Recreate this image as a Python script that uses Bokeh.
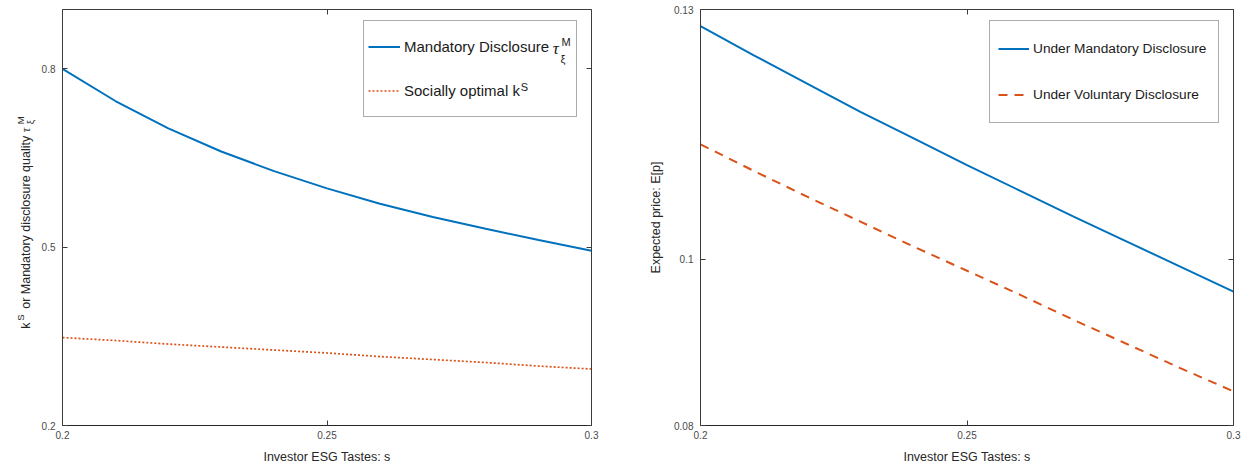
import math
from bokeh.plotting import figure
from bokeh.layouts import row
from bokeh.models import Range1d, LinearAxis, FixedTicker, Legend, LegendItem
from bokeh.core.properties import value
from bokeh.embed import file_html
from bokeh.resources import INLINE

# ---------------- data ----------------
s_vals = [0.20, 0.21, 0.22, 0.23, 0.24, 0.25, 0.26, 0.27, 0.28, 0.29, 0.30]
tau_mandatory = [0.800, 0.746, 0.700, 0.661, 0.628, 0.599, 0.573, 0.551, 0.531, 0.512, 0.494]
k_social = [0.348, 0.343, 0.337, 0.332, 0.327, 0.322, 0.316, 0.311, 0.306, 0.300, 0.295]
price_mandatory = [0.1280, 0.1245, 0.1211, 0.1177, 0.1145, 0.1113, 0.1082, 0.1051, 0.1021, 0.0991, 0.0961]
price_voluntary = [0.1138, 0.1106, 0.1075, 0.1045, 0.1015, 0.0986, 0.0957, 0.0927, 0.0898, 0.0869, 0.0841]

x_ticks = [0.2, 0.25, 0.3]
x_tick_labels = ["0.2", "0.25", "0.3"]
left_y_ticks = [0.2, 0.5, 0.8]
left_y_tick_labels = ["0.2", "0.5", "0.8"]
right_y_ticks = [0.08, 0.1, 0.13]
right_y_tick_labels = ["0.08", "0.1", "0.13"]

x_label = "Investor ESG Tastes: s"
right_y_label = "Expected price: E[p]"
left_legend = ["Mandatory Disclosure", "Socially optimal k"]
right_legend = ["Under Mandatory Disclosure", "Under Voluntary Disclosure"]

# ---------------- style / layout ----------------
FONT = "Liberation Sans"
BLUE = "#0072BD"
ORANGE = "#D95319"
AXIS_COL = "#3c3c3c"
TICK_TXT = "#4a4a4a"
LABEL_TXT = "#262626"
FIG_H = 466
B_TOP = 9
B_BOT = 40
FRAME_H = FIG_H - B_TOP - B_BOT
LBL_W = 38             # strip that holds the rotated left y label
P1_W, P1_BL, P1_BR = 620 - LBL_W, 22, 29
P1_FW = P1_W - P1_BL - P1_BR


def style_axis(ax, ticks, labels, show):
    ax.ticker = FixedTicker(ticks=ticks)
    ax.major_tick_in = 5
    ax.major_tick_out = 0
    ax.minor_tick_line_color = None
    ax.axis_line_color = AXIS_COL
    ax.axis_line_width = 1
    ax.major_tick_line_color = AXIS_COL
    if show:
        ax.major_label_overrides = {t: l for t, l in zip(ticks, labels)}
        ax.major_label_text_font = FONT
        ax.major_label_text_font_size = "10px"
        ax.major_label_text_color = TICK_TXT
    else:
        ax.major_label_overrides = {t: "" for t in ticks}
        ax.major_label_text_font_size = "0px"
        ax.major_label_standoff = 0


def make_fig(width, bl, br, yr, yticks, ylabels):
    p = figure(width=width, height=FIG_H, x_range=Range1d(0.2, 0.3), y_range=Range1d(*yr),
               output_backend="svg", toolbar_location=None,
               x_axis_location=None, y_axis_location=None,
               min_border_left=bl, min_border_right=br,
               min_border_top=B_TOP, min_border_bottom=B_BOT)
    p.grid.visible = False
    p.outline_line_color = None
    p.background_fill_color = "white"
    p.border_fill_color = "white"

    bottom = LinearAxis()
    style_axis(bottom, x_ticks, x_tick_labels, True)
    bottom.major_label_standoff = 5
    bottom.axis_label = x_label
    bottom.axis_label_text_font = FONT
    bottom.axis_label_text_font_size = "12.5px"
    bottom.axis_label_text_font_style = "normal"
    bottom.axis_label_text_color = LABEL_TXT
    bottom.axis_label_standoff = 8
    bottom.axis_line_color = "#262626"
    p.add_layout(bottom, "below")

    left = LinearAxis()
    style_axis(left, yticks, ylabels, True)
    left.major_label_standoff = 7
    p.add_layout(left, "left")

    top = LinearAxis()
    style_axis(top, x_ticks, x_tick_labels, False)
    p.add_layout(top, "above")

    right = LinearAxis()
    style_axis(right, yticks, ylabels, False)
    p.add_layout(right, "right")
    return p, left


def make_legend(items, x, top_gap, pad, item_h, spacing, glyph_w, label_w, font_size, n=2):
    height = 2 * pad + n * item_h + (n - 1) * spacing
    leg = Legend(items=items, location=(x, FRAME_H - top_gap - height),
                 padding=pad, spacing=spacing, margin=0,
                 glyph_width=glyph_w, glyph_height=item_h,
                 label_width=label_w, label_height=item_h, label_standoff=4,
                 border_line_color="#5a5a5a", border_line_width=1,
                 background_fill_alpha=0,
                 label_text_font=FONT, label_text_font_size=font_size,
                 label_text_color="#1a1a1a")
    return leg


def put_text(p, sx, sy, text, size, xr, yr, fw, fh, font=FONT, style="normal",
             angle=0.0, baseline="middle", color="#1a1a1a"):
    """Place a text at a screen offset (sx from frame left, sy from frame bottom)."""
    xd = xr[0] + sx / fw * (xr[1] - xr[0])
    yd = yr[0] + sy / fh * (yr[1] - yr[0])
    p.text(x=[xd], y=[yd], text=[text], text_font=value(font), text_font_size=value(size),
           text_font_style=style, text_color=color, text_align="left",
           text_baseline=baseline, angle=angle, level="overlay")


# ---------------- rotated y label strip (left of the left panel) ----------------
LX = (0, LBL_W)
LY = (0, FRAME_H)
lbl = figure(width=LBL_W, height=FIG_H, x_range=Range1d(*LX), y_range=Range1d(*LY),
             output_backend="svg", toolbar_location=None,
             x_axis_location=None, y_axis_location=None,
             min_border_left=0, min_border_right=0,
             min_border_top=B_TOP, min_border_bottom=B_BOT)
lbl.grid.visible = False
lbl.outline_line_color = None
MAIN_X, SUP_X, SUB_X = 25.5, 19.5, 30
up = math.pi / 2
rot = dict(angle=up, baseline="alphabetic", color=LABEL_TXT)
put_text(lbl, MAIN_X, 97, "k", "12.5px", LX, LY, LBL_W, FRAME_H, **rot)
put_text(lbl, SUP_X, 105, "S", "9.5px", LX, LY, LBL_W, FRAME_H, **rot)
put_text(lbl, MAIN_X, 117, "or Mandatory disclosure quality", "12.5px", LX, LY, LBL_W, FRAME_H, **rot)
put_text(lbl, MAIN_X, 294, "\u03c4", "12.5px", LX, LY, LBL_W, FRAME_H,
         font="Liberation Serif", style="italic", **rot)
put_text(lbl, SUP_X, 302, "M", "9.5px", LX, LY, LBL_W, FRAME_H, **rot)
put_text(lbl, SUB_X, 302, "\u03be", "9.5px", LX, LY, LBL_W, FRAME_H, **rot)

# ---------------- left panel ----------------
Y1 = (0.2, 0.9)
p1, p1_left = make_fig(P1_W, P1_BL, P1_BR, Y1, left_y_ticks, left_y_tick_labels)
r_tau = p1.line(s_vals, tau_mandatory, line_color=BLUE, line_width=2)
r_k = p1.line(s_vals, k_social, line_color=ORANGE, line_width=1.7, line_dash="2 2")

L1_X, L1_TOP, L1_PAD, L1_H, L1_SP = 301, 14, 4, 43, 1
leg1 = make_legend([LegendItem(label=left_legend[0], renderers=[r_tau]),
                    LegendItem(label=left_legend[1], renderers=[r_k])],
                   L1_X, L1_TOP, L1_PAD, L1_H, L1_SP, 32, 168, "15px")
p1.add_layout(leg1)

# super/subscripts next to the legend labels
X1 = (0.2, 0.3)
c1 = FRAME_H - (L1_TOP + L1_PAD + L1_H / 2)
c2 = c1 - (L1_H + L1_SP)
tx = L1_X + L1_PAD + 32 + 4
put_text(p1, tx + 151, c1, "\u03c4", "17px", X1, Y1, P1_FW, FRAME_H,
         font="Liberation Serif", style="italic")
put_text(p1, tx + 160, c1 + 7, "M", "11px", X1, Y1, P1_FW, FRAME_H)
put_text(p1, tx + 159, c1 - 10, "\u03be", "11px", X1, Y1, P1_FW, FRAME_H)
put_text(p1, tx + 119, c2 + 6, "S", "11px", X1, Y1, P1_FW, FRAME_H)

# ---------------- right panel ----------------
p2, p2_left = make_fig(626, 80, 13, (0.08, 0.13), right_y_ticks, right_y_tick_labels)
p2_left.axis_label = right_y_label
p2_left.axis_label_text_font = FONT
p2_left.axis_label_text_font_size = "12.5px"
p2_left.axis_label_text_font_style = "normal"
p2_left.axis_label_text_color = LABEL_TXT
p2_left.axis_label_standoff = 8

r_pm = p2.line(s_vals, price_mandatory, line_color=BLUE, line_width=2)
r_pv = p2.line(s_vals, price_voluntary, line_color=ORANGE, line_width=2, line_dash="9 7")
leg2 = make_legend([LegendItem(label=right_legend[0], renderers=[r_pm]),
                    LegendItem(label=right_legend[1], renderers=[r_pv])],
                   289, 14, 8, 39, 7, 31, 177, "13.7px")
p2.add_layout(leg2)

layout = row(lbl, p1, p2)
open("out.html", "w").write(file_html(layout, INLINE))
